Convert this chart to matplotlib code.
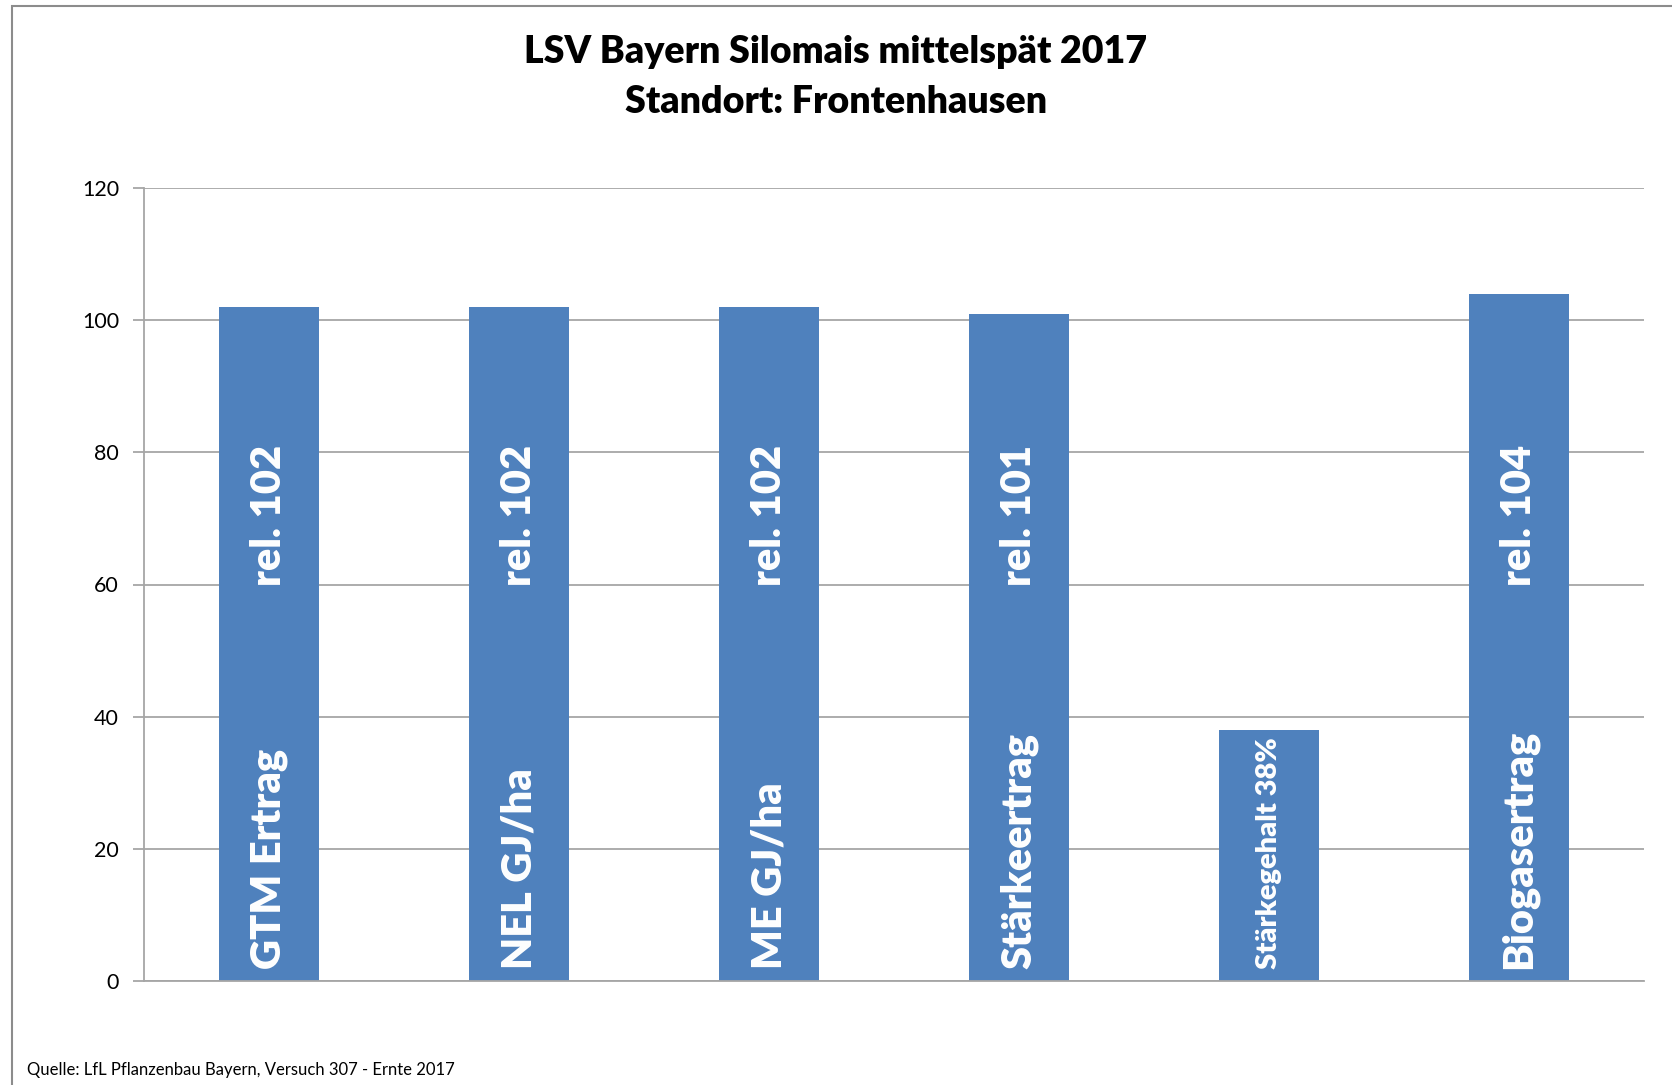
import matplotlib.pyplot as plt
from matplotlib.patches import Rectangle

# data
categories = ['GTM Ertrag', 'NEL GJ/ha', 'ME GJ/ha', 'Stärkeertrag', 'Stärkegehalt 38%', 'Biogasertrag']
values = [102, 102, 102, 101, 38, 104]
rel_labels = ['rel. 102', 'rel. 102', 'rel. 102', 'rel. 101', '', 'rel. 104']
yticks = [0, 20, 40, 60, 80, 100, 120]

plt.rcParams['font.family'] = ['Lato', 'DejaVu Sans']

fig = plt.figure(figsize=(16.72, 10.85), dpi=100)
W, H = 1672, 1085
ax = fig.add_axes([144 / W, 1 - 981 / H, 1500 / W, (981 - 188) / H])

grey = '#A6A6A6'
bar_color = '#4F81BD'

x = list(range(len(categories)))
ax.bar(x, values, width=0.4, color=bar_color, zorder=2)
ax.set_xlim(-0.5, len(categories) - 0.5)
ax.set_ylim(0, 120)
ax.set_yticks(yticks)
ax.set_xticks([])
ax.yaxis.grid(True, color=grey, linewidth=1.3, zorder=0)
ax.set_axisbelow(True)
for s in ['top', 'right']:
    ax.spines[s].set_visible(False)
ax.spines['left'].set_color(grey)
ax.spines['bottom'].set_color(grey)
ax.spines['left'].set_linewidth(1.3)
ax.spines['bottom'].set_linewidth(1.3)
ax.tick_params(axis='y', colors=grey, length=8, width=1.3, pad=10, labelsize=15.5, labelcolor='black')

for i, cat in enumerate(categories):
    small = cat.startswith('Stärkegehalt')
    ax.text(i, 1.8, cat, rotation=90, ha='center', va='bottom', color='white',
            fontsize=21 if small else 30, fontweight='heavy', zorder=3)
    if rel_labels[i]:
        ax.text(i, 70.5, rel_labels[i], rotation=90, ha='center', va='center', color='white',
                fontsize=30, fontweight='heavy', zorder=3)

fig.text(0.5, 1 - 52 / H, 'LSV Bayern Silomais mittelspät 2017', ha='center', va='center',
         fontsize=27, fontweight='heavy')
fig.text(0.5, 1 - 102 / H, 'Standort: Frontenhausen', ha='center', va='center',
         fontsize=27, fontweight='heavy')
fig.text(27 / W, 1 - 1070 / H, 'Quelle: LfL Pflanzenbau Bayern, Versuch 307 - Ernte 2017',
         ha='left', va='center', fontsize=12)

# outer chart frame
fig.patches.append(Rectangle((12 / W, -0.05), 1.2, 1 - 6 / H + 0.05, transform=fig.transFigure,
                             fill=False, edgecolor='#8C8C8C', linewidth=1.5))

fig.savefig('out.png', dpi=100)
